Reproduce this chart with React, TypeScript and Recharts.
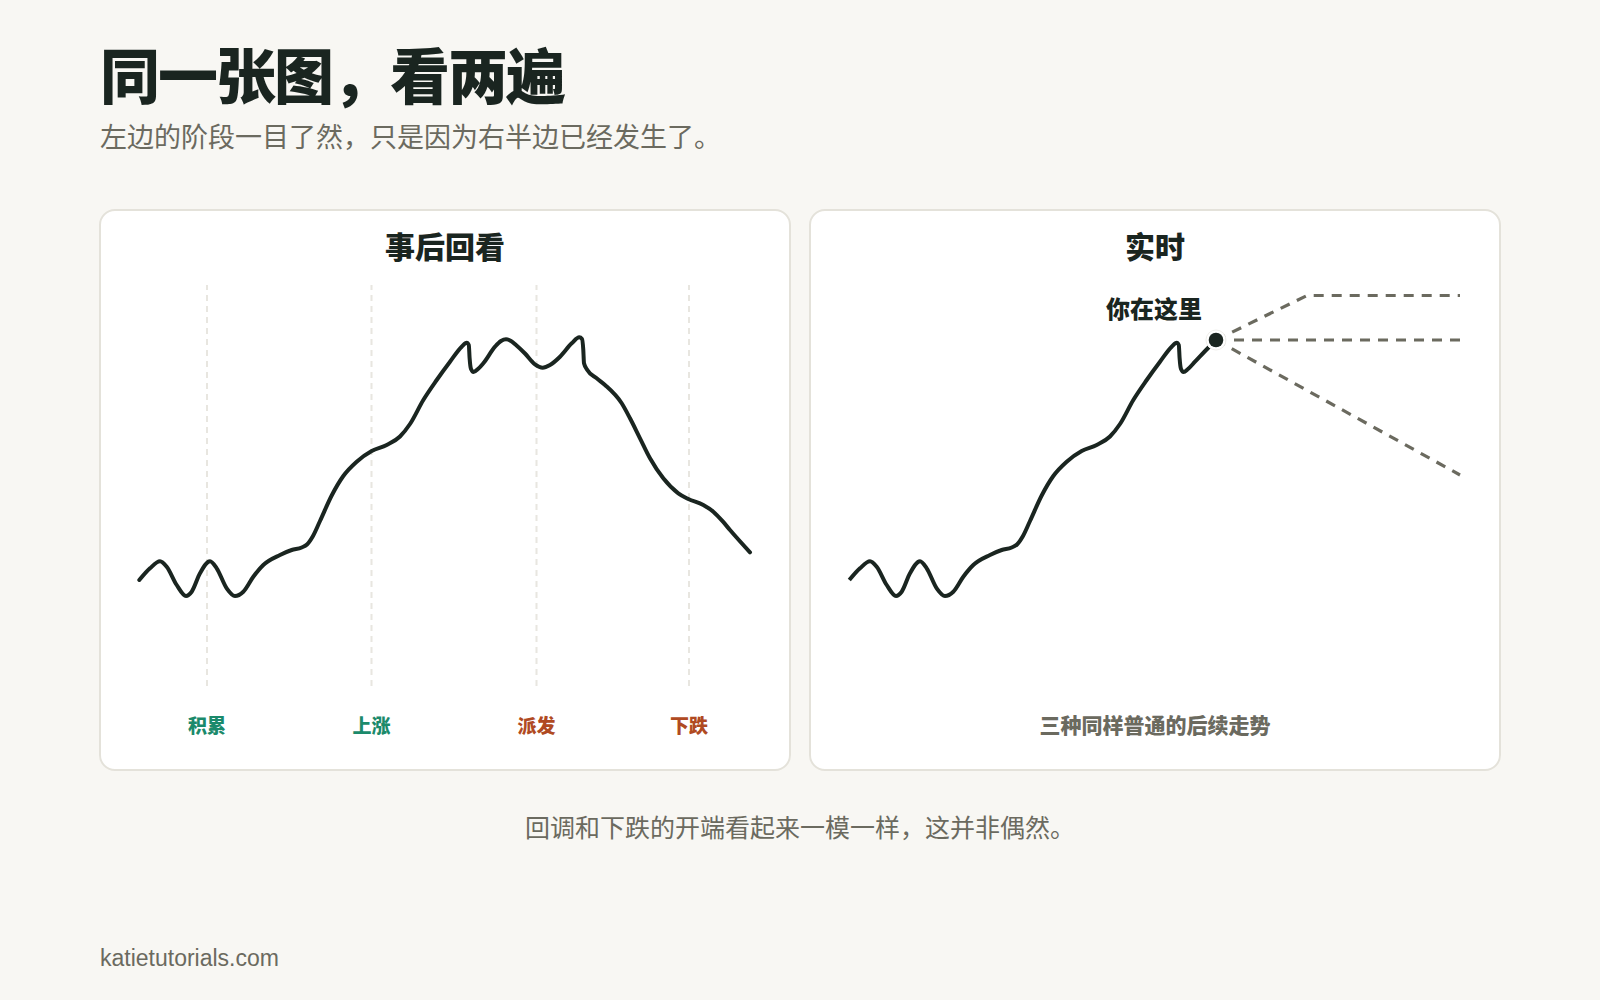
import React from "react";
import { LineChart, Line, XAxis, YAxis, ReferenceLine, ReferenceDot } from "recharts";

const timeValues = [39.3,50,60,66.7,76.7,86,91.7,100,110,116.7,126.7,135,143.3,153.3,163.3,180,191.7,201.7,207,213,220,231.7,243.3,256.7,271.7,286.7,300,310,323.3,336.7,350,361.7,366.7,368.8,369.6,371,373.5,378,383.3,395,401,406,411,416,425,435,442.7,450,460,471.7,479.3,482,483.3,484,487.3,496.7,505,521.7,530,540,550,563.3,578.3,588.3,603.3,613.3,623,630,650];
const priceValues = [106,117.7,124.7,119.3,101,90,94.3,112.7,124.7,117.7,97.7,90,94.3,109.3,121,131,136,138.5,141.5,150,165,190.5,210,224.3,235,241,249.5,262,286,306,324.3,339.3,343.3,341,328,317,314,317,322.7,339.3,345,346.7,345,341,332.5,321.7,318.3,321,329.3,342.7,348.7,347,336,322.7,316,307.7,301,282.7,267.7,247.7,227.7,207.7,192.7,187,181,174.3,164.3,156,133.7];

const liveTailTimes = [385, 399, 406];
const liveTailPrices = [324.3, 339, 346];
const nowTime = 406;
const nowPrice = 346;

const phaseNames = ["积累", "上涨", "派发", "下跌"];
const phaseTimes = [107, 271.5, 436.5, 589];
const phaseColors = ["#1b8a6b", "#1b8a6b", "#b04a22", "#b04a22"];

const branchHighTimes = [406, 497, 650];
const branchHighPrices = [346, 390.5, 390.5];
const branchFlatTimes = [406, 650];
const branchFlatPrices = [346, 346];
const branchLowTimes = [406, 650];
const branchLowPrices = [346, 211];

const zip = (ts: number[], vs: number[]) => ts.map((t, i) => ({ t, v: vs[i] }));
const hindsight = zip(timeValues, priceValues);
const realtime = [...hindsight.filter((d) => d.t <= 378), ...zip(liveTailTimes, liveTailPrices)];
const branches = [zip(branchHighTimes, branchHighPrices), zip(branchFlatTimes, branchFlatPrices), zip(branchLowTimes, branchLowPrices)];

const INK = "#1a2520";
const MUTED = "#6b6a5f";
const FONT = '"Noto Sans CJK SC", "Liberation Sans", sans-serif';
const W = 690, H = 560;
const margin = { top: 75, right: 0, bottom: 0, left: 0 };

const PhaseTick = (props: any) => {
  const i = phaseTimes.indexOf(props.payload.value);
  return (
    <text x={props.x} y={514} textAnchor="middle" dominantBaseline="central" fontSize={19} fontWeight={900} fontFamily={FONT} fill={phaseColors[i]}>
      {phaseNames[i]}
    </text>
  );
};

const CenterTick = (props: any) => (
  <text x={props.x} y={513.5} textAnchor="middle" dominantBaseline="central" fontSize={21} fontWeight={900} fontFamily={FONT} fill={MUTED}>
    三种同样普通的后续走势
  </text>
);

const Card = ({ left, title, children }: any) => (
  <div style={{ position: "absolute", left: left - 1, top: 209, width: W + 2, height: H + 2, boxSizing: "border-box", background: "#fff", border: "2px solid #e4e2da", borderRadius: 16 }}>
    <div style={{ position: "absolute", left: -1, width: W, top: 12, textAlign: "center", font: `900 30px/44px ${FONT}`, color: INK }}>{title}</div>
    <div style={{ position: "absolute", left: -1, top: -1 }}>{children}</div>
  </div>
);

const axes = (ticks: number[], tick: any) => [
  <XAxis key="x" type="number" dataKey="t" domain={[0, W]} ticks={ticks} interval={0} height={84} axisLine={false} tickLine={false} tick={tick} allowDataOverflow />,
  <YAxis key="y" type="number" domain={[0, 401]} hide allowDataOverflow />,
];

export default function App() {
  return (
    <div style={{ position: "absolute", left: 0, top: 0, width: 1600, height: 1000, overflow: "hidden", background: "#f8f7f3", fontFamily: FONT }}>
      <div style={{ position: "absolute", left: 100, top: 33, font: `900 60px/80px ${FONT}`, letterSpacing: -2, color: INK, whiteSpace: "nowrap" }}>同一张图，看两遍</div>
      <div style={{ position: "absolute", left: 100, top: 116, font: `400 27px/40px ${FONT}`, color: MUTED, whiteSpace: "nowrap" }}>左边的阶段一目了然，只是因为右半边已经发生了。</div>

      <Card left={100} title="事后回看">
        <LineChart width={W} height={H} data={hindsight} margin={margin}>
          {axes(phaseTimes, <PhaseTick />)}
          {phaseTimes.map((t) => (
            <ReferenceLine key={t} x={t} stroke="#e8e6e0" strokeWidth={2} strokeDasharray="6 5" />
          ))}
          <Line type="monotone" dataKey="v" stroke={INK} strokeWidth={4} dot={false} activeDot={false} isAnimationActive={false} strokeLinecap="round" />
        </LineChart>
      </Card>

      <Card left={810} title="实时">
        <LineChart width={W} height={H} data={realtime} margin={margin}>
          {axes([345], <CenterTick />)}
          <Line type="monotone" dataKey="v" stroke={INK} strokeWidth={4} dot={false} activeDot={false} isAnimationActive={false} />
          {branches.map((b, i) => (
            <Line key={i} data={b} type="linear" dataKey="v" stroke={MUTED} strokeWidth={3.2} strokeDasharray="10 8" dot={false} activeDot={false} isAnimationActive={false} />
          ))}
          <ReferenceDot x={nowTime} y={nowPrice} r={10} fill="#fff" stroke="#f0efeb" strokeWidth={1} />
          <ReferenceDot x={nowTime} y={nowPrice} r={7.3} fill={INK} stroke="none" />
          <ReferenceDot x={344} y={377} r={0} stroke="none" fill="none" label={{ value: "你在这里", position: "center", fill: INK, fontSize: 24, fontWeight: 900, fontFamily: FONT }} />
        </LineChart>
      </Card>

      <div style={{ position: "absolute", left: 0, width: 1600, top: 806, textAlign: "center", font: `400 25px/40px ${FONT}`, color: MUTED }}>回调和下跌的开端看起来一模一样，这并非偶然。</div>
      <div style={{ position: "absolute", left: 100, top: 942, font: `400 23px/32px "Liberation Sans", sans-serif`, color: MUTED, whiteSpace: "nowrap" }}>katietutorials.com</div>
    </div>
  );
}
